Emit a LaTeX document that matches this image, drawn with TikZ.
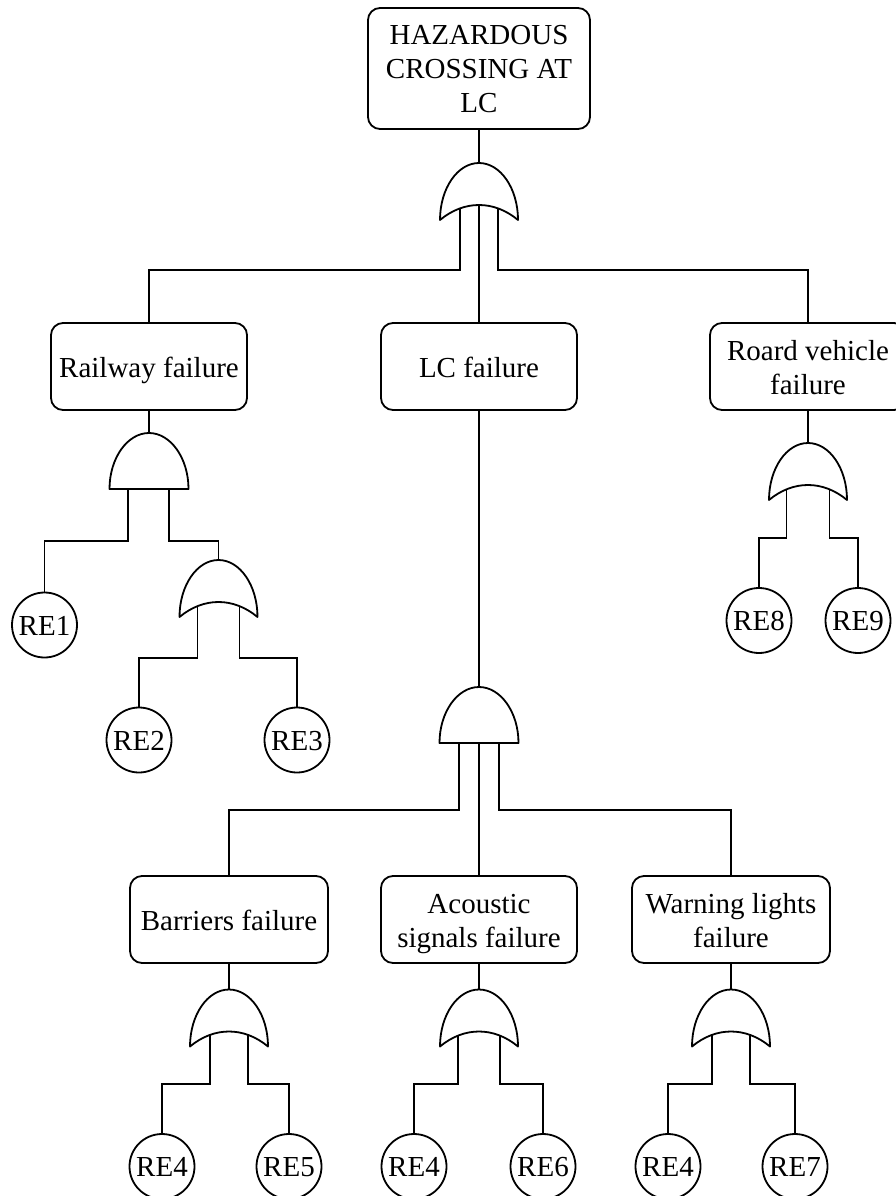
\documentclass[tikz,border=0pt]{standalone}
\usepackage{fontspec}
\setmainfont{Liberation Serif}
% fixed first-line height and last-line depth, so every label sits alike
\newcommand\evtext[1]{\rule{0pt}{28pt}#1\rule[-7pt]{0pt}{7pt}}
\begin{document}
\begin{tikzpicture}[x=1pt,y=-1pt,line width=1.8pt,
  event/.style={draw,rounded corners=12pt,fill=white,align=center,inner sep=0pt,
    minimum width=196pt,minimum height=87pt,font=\fontsize{29}{34}\selectfont},
  basic/.style={draw,circle,fill=white,inner sep=0pt,minimum size=65pt,
    text height=20pt,text depth=0pt,font=\fontsize{29}{34}\selectfont},
  gatebox/.style={inner sep=0pt,outer sep=0pt,minimum width=78pt,minimum height=57pt},
  gate/.style={draw,fill=white,line join=round}]
\useasboundingbox (0,0) rectangle (896,1196);
\clip (0,0) rectangle (896,1196);

% OR gate: pointed arch with concave base; AND gate: arch with flat base
\newcommand\orgate[1]{\draw[gate,shift={(#1.center)}]
  (-39,28.5) .. controls (-39,-3) and (-21.5,-28.5) .. (0,-28.5)
  .. controls (21.5,-28.5) and (39,-3) .. (39,28.5)
  .. controls (15,8.5) and (-15,8.5) .. cycle;}
\newcommand\andgate[1]{\draw[gate,shift={(#1.center)}]
  (-39.5,28) .. controls (-39.5,-3) and (-21.5,-28) .. (0,-28)
  .. controls (21.5,-28) and (39.5,-3) .. (39.5,28) -- cycle;}

% events
\node[event,minimum width=222pt,minimum height=121pt] (top) at (479,68.5) {\evtext{HAZARDOUS\\CROSSING AT\\LC}};
\node[event] (rail) at (149,366.5) {\evtext{Railway failure}};
\node[event] (lc) at (479,366.5) {\evtext{LC failure}};
\node[event] (road) at (808,366.5) {\evtext{Roard vehicle\\failure}};
\node[event,minimum width=198pt] (bar) at (229,919.5) {\evtext{Barriers failure}};
\node[event] (ac) at (479,919.5) {\evtext{Acoustic\\signals failure}};
\node[event,minimum width=198pt] (warn) at (731,919.5) {\evtext{Warning lights\\failure}};

% basic events
\node[basic] (re1) at (44.5,625) {RE1};
\node[basic] (re2) at (139,740) {RE2};
\node[basic] (re3) at (297,740) {RE3};
\node[basic] (re8) at (759,620.5) {RE8};
\node[basic] (re9) at (858,620.5) {RE9};
\node[basic] (re4a) at (162,1166.5) {RE4};
\node[basic] (re5) at (289,1166.5) {RE5};
\node[basic] (re4b) at (414,1166.5) {RE4};
\node[basic] (re6) at (543,1166.5) {RE6};
\node[basic] (re4c) at (668,1166.5) {RE4};
\node[basic] (re7) at (795,1166.5) {RE7};

% gate placeholders
\node[gatebox] (g0) at (479,191.5) {};
\node[gatebox] (gR) at (149,461) {};
\node[gatebox] (gR2) at (218.5,588.5) {};
\node[gatebox] (gV) at (808,471.5) {};
\node[gatebox] (gL) at (479,715) {};
\node[gatebox] (gB) at (229,1018) {};
\node[gatebox] (gA) at (479,1018) {};
\node[gatebox] (gW) at (731,1018) {};

% connectors
\draw (top.south) -- (g0.north);
\draw ([xshift=-19pt]g0.center) -- ++(0,78.5) -| (rail.north);
\draw (g0.center) -- (lc.north);
\draw ([xshift=19pt]g0.center) -- ++(0,78.5) -| (road.north);

\draw (rail.south) -- (gR.north);
\draw ([xshift=-21pt]gR.center) -- ++(0,80) -| (re1.north);
\draw ([xshift=20pt]gR.center) -- ++(0,80) -| (gR2.north);
\draw ([xshift=-21pt]gR2.center) -- ++(0,69.5) -| (re2.north);
\draw ([xshift=21pt]gR2.center) -- ++(0,69.5) -| (re3.north);

\draw (road.south) -- (gV.north);
\draw ([xshift=-21.5pt]gV.center) -- ++(0,66.5) -| (re8.north);
\draw ([xshift=21.5pt]gV.center) -- ++(0,66.5) -| (re9.north);

\draw (lc.south) -- (gL.north);
\draw ([xshift=-20pt]gL.center) -- ++(0,95) -| (bar.north);
\draw (gL.center) -- (ac.north);
\draw ([xshift=20pt]gL.center) -- ++(0,95) -| (warn.north);

\draw (bar.south) -- (gB.north);
\draw ([xshift=-19pt]gB.center) -- ++(0,66) -| (re4a.north);
\draw ([xshift=19pt]gB.center) -- ++(0,66) -| (re5.north);
\draw (ac.south) -- (gA.north);
\draw ([xshift=-21pt]gA.center) -- ++(0,66) -| (re4b.north);
\draw ([xshift=21pt]gA.center) -- ++(0,66) -| (re6.north);
\draw (warn.south) -- (gW.north);
\draw ([xshift=-19pt]gW.center) -- ++(0,66) -| (re4c.north);
\draw ([xshift=19pt]gW.center) -- ++(0,66) -| (re7.north);

% gates drawn over the connector stubs
\orgate{g0}
\andgate{gR}
\orgate{gR2}
\orgate{gV}
\andgate{gL}
\orgate{gB}
\orgate{gA}
\orgate{gW}
\end{tikzpicture}
\end{document}
